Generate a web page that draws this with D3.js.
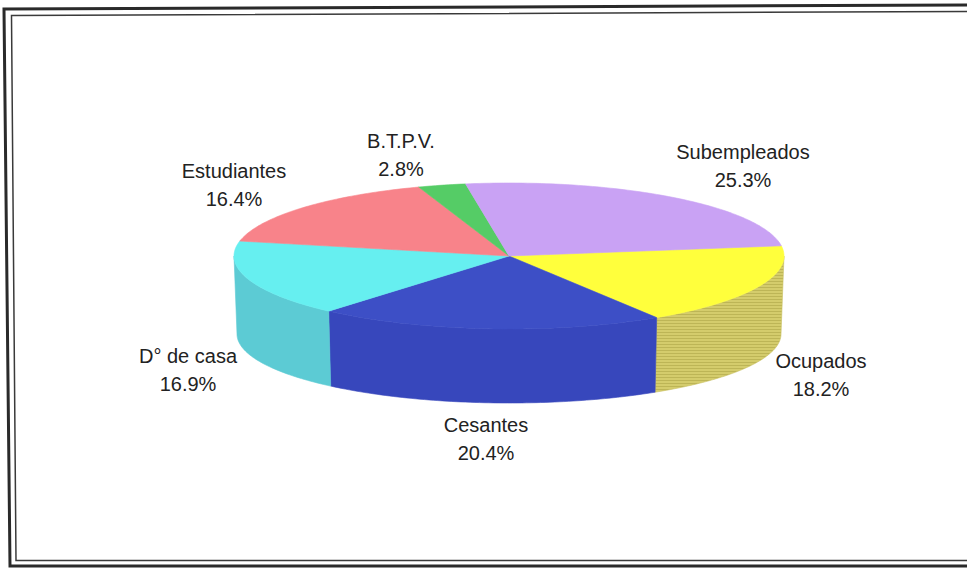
<!DOCTYPE html>
<html><head><meta charset="utf-8">
<script src="https://cdn.jsdelivr.net/npm/d3@7"></script>
<style>
body{margin:0;background:#fff;overflow:hidden}
text{font-family:"Liberation Sans",Arial,sans-serif}
</style>
</head><body>
<svg id="c" width="967" height="572"></svg>
<script>
// ---- data ----
const categories = ["Ocupados","Cesantes","D° de casa","Estudiantes","B.T.P.V.","Subempleados"];
const values = [18.2, 20.4, 16.9, 16.4, 2.8, 25.3];
const valueLabels = ["18.2%","20.4%","16.9%","16.4%","2.8%","25.3%"];

// ---- styles / layout ----
const topColors  = ["#ffff3c","#3d4fc6","#66eff0","#f8838a","#55cc66","#c9a2f4"];
const sideColors = ["#d2ca68","#3747bc","#5ccbd4","#e07078","#45b055","#b08ce0"];
const labelPos = {
  "Ocupados":[821,368], "Cesantes":[486,432], "D° de casa":[188,363],
  "Estudiantes":[234,178], "B.T.P.V.":[401,148], "Subempleados":[743,159]
};
const startDeg = -8; // parametric angle (clockwise from 3 o'clock) of first slice start

const svg = d3.select("#c");
const W = 967, H = 572;

// frame
const defs = svg.append("defs");
const pat = defs.append("pattern").attr("id","stripes").attr("patternUnits","userSpaceOnUse")
  .attr("width",8).attr("height",3);
pat.append("rect").attr("width",8).attr("height",3).attr("fill","#d4cc6c");
pat.append("rect").attr("y",2).attr("width",8).attr("height",1).attr("fill","#bdb556");

svg.append("path").attr("d","M972,5 L4,9 L10,566 L972,566")
  .attr("fill","none").attr("stroke","#2a2a2a").attr("stroke-width",3);
svg.append("path").attr("d","M972,11.5 L11.5,15.5 L16,560.5 L972,560.5")
  .attr("fill","none").attr("stroke","#3a3a3a").attr("stroke-width",1.5);

// geometry
const T = {cx:509, cy:256, rx:275, ry:73};
const B = {cx:509, cy:334, rx:272, ry:69};
const tp = t => [T.cx + T.rx*Math.cos(t), T.cy + T.ry*Math.sin(t)];
const bp = t => [B.cx + B.rx*Math.cos(t), B.cy + B.ry*Math.sin(t)];
const rad = d => d*Math.PI/180;

const a0 = rad(startDeg + 90);
const pie = d3.pie().sort(null).value(d => d).startAngle(a0).endAngle(a0 + 2*Math.PI);
const arcs = pie(values);
const line = d3.line();

function samples(t1, t2) {
  const n = Math.max(2, Math.ceil(Math.abs(t2 - t1) / rad(1)));
  return d3.range(n + 1).map(i => t1 + (t2 - t1) * i / n);
}

// sides
const gSide = svg.append("g");
arcs.forEach((a, i) => {
  const t1 = a.startAngle - Math.PI/2, t2 = a.endAngle - Math.PI/2;
  const s = Math.max(t1, 0), e = Math.min(t2, Math.PI);
  if (e <= s) return;
  const ts = samples(s, e);
  const pts = ts.map(tp).concat(ts.slice().reverse().map(bp));
  gSide.append("path").attr("d", line(pts) + "Z")
    .attr("fill", i === 0 ? "url(#stripes)" : sideColors[i])
    .attr("stroke", i === 0 ? "#c8c060" : sideColors[i]).attr("stroke-width", 0.6);
});

// tops
const gTop = svg.append("g");
arcs.forEach((a, i) => {
  const t1 = a.startAngle - Math.PI/2, t2 = a.endAngle - Math.PI/2;
  const pts = [[T.cx, T.cy]].concat(samples(t1, t2).map(tp));
  gTop.append("path").attr("d", line(pts) + "Z")
    .attr("fill", topColors[i]).attr("stroke", topColors[i]).attr("stroke-width", 0.6);
});

// labels
const gLab = svg.append("g").attr("fill","#222").attr("font-size","20px").attr("text-anchor","middle");
categories.forEach((c, i) => {
  const [x, y] = labelPos[c];
  gLab.append("text").attr("x", x).attr("y", y).text(c);
  gLab.append("text").attr("x", x).attr("y", y + 28).text(valueLabels[i]);
});
</script>
</body></html>
